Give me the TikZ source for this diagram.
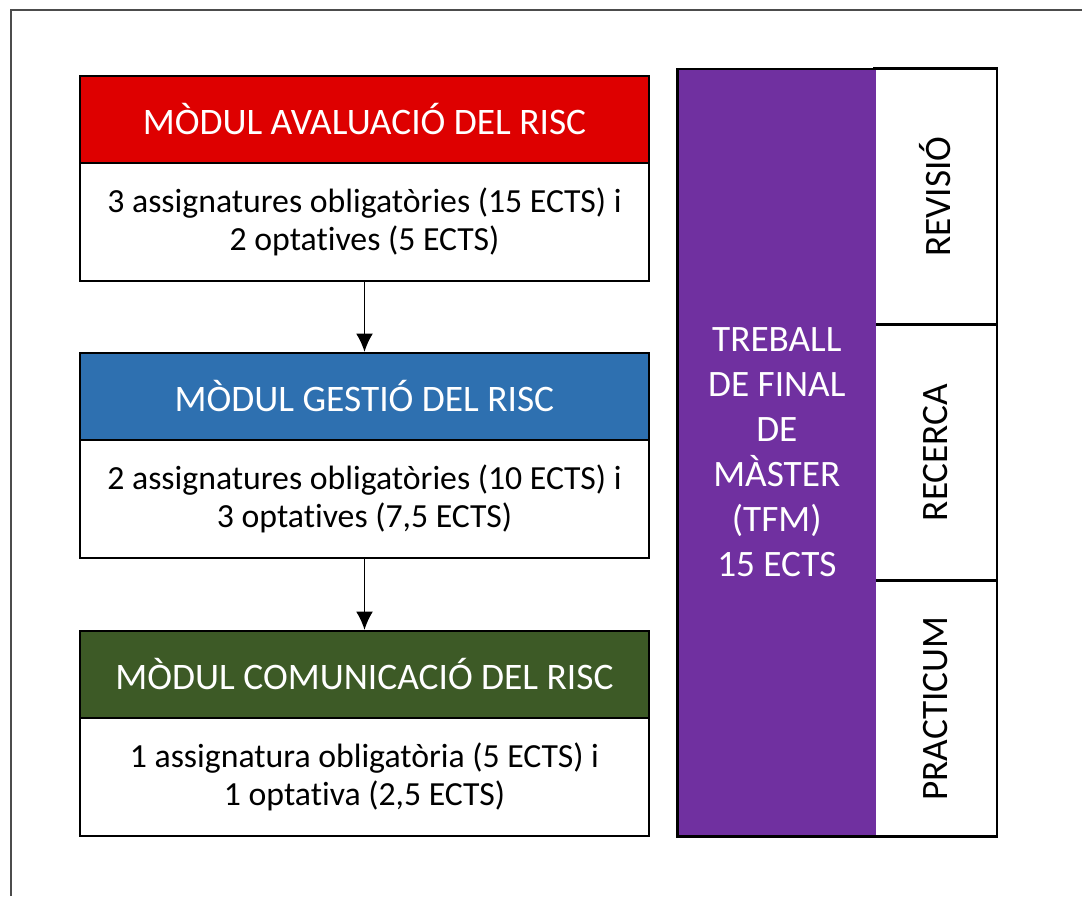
\documentclass[tikz,border=0pt]{standalone}
\usepackage{fontspec}
\setmainfont{Carlito}[Ligatures=NoCommon]
\usetikzlibrary{arrows.meta}
\definecolor{riscred}{HTML}{DE0000}
\definecolor{riscblue}{HTML}{2E70B0}
\definecolor{riscgreen}{HTML}{3D5A26}
\definecolor{tfmpurple}{HTML}{7030A0}
\tikzset{
  head/.style={draw=black,line width=1.6pt,minimum width=14.225cm,minimum height=2.175cm,
    text=white,font=\fontsize{26.6}{30}\selectfont},
  body/.style={draw=black,line width=1.6pt,fill=white,minimum width=14.225cm,minimum height=2.95cm,
    align=center,font=\fontsize{24}{27}\selectfont},
  side/.style={draw=black,line width=1.6pt,rotate=90,minimum width=6.4cm,minimum height=3.075cm,
    font=\fontsize{26.5}{30}\selectfont},
  flow/.style={-{Latex[length=13pt,width=12pt]},line width=1.2pt}
}
\begin{document}
\begin{tikzpicture}[x=0.025cm,y=-0.025cm]
\useasboundingbox (0,0) rectangle (1082,896);
\draw[line width=1.5pt,black!70] (11,896) -- (11,10) -- (1082,10);

\node[head,fill=riscred] (avalhead) at (364.5,119.5) {MÒDUL AVALUACIÓ DEL RISC};
\node[body] (avalbody) at (364.5,222) {3 assignatures obligatòries (15 ECTS) i\\2 optatives (5 ECTS)};
\node[head,fill=riscblue] (gesthead) at (364.5,396.5) {MÒDUL GESTIÓ DEL RISC};
\node[body] (gestbody) at (364.5,499) {2 assignatures obligatòries (10 ECTS) i\\3 optatives (7,5 ECTS)};
\node[head,fill=riscgreen] (comhead) at (364.5,674.5) {MÒDUL COMUNICACIÓ DEL RISC};
\node[body] (combody) at (364.5,777) {1 assignatura obligatòria (5 ECTS) i\\1 optativa (2,5 ECTS)};

\node[side] (revisio) at (935.5,196.5) {REVISIÓ};
\node[side] (recerca) at (935.5,452.5) {RECERCA};
\node[side] (practicum) at (935.5,708.5) {PRACTICUM};

% purple block covers the left edge of the side boxes
\node[fill=tfmpurple,minimum width=4.95cm,minimum height=19.175cm,
  text=white,align=center,font=\fontsize{26.5}{32}\selectfont] (tfm) at (776.8,452.5)
  {TREBALL\\DE FINAL\\DE\\MÀSTER\\(TFM)\\15 ECTS};
\draw[line width=1.6pt] (tfm.north east) -- (tfm.north west) -- (tfm.south west) -- (tfm.south east);

\draw[flow] (avalbody) -- (gesthead);
\draw[flow] (gestbody) -- (comhead);
\end{tikzpicture}
\end{document}
